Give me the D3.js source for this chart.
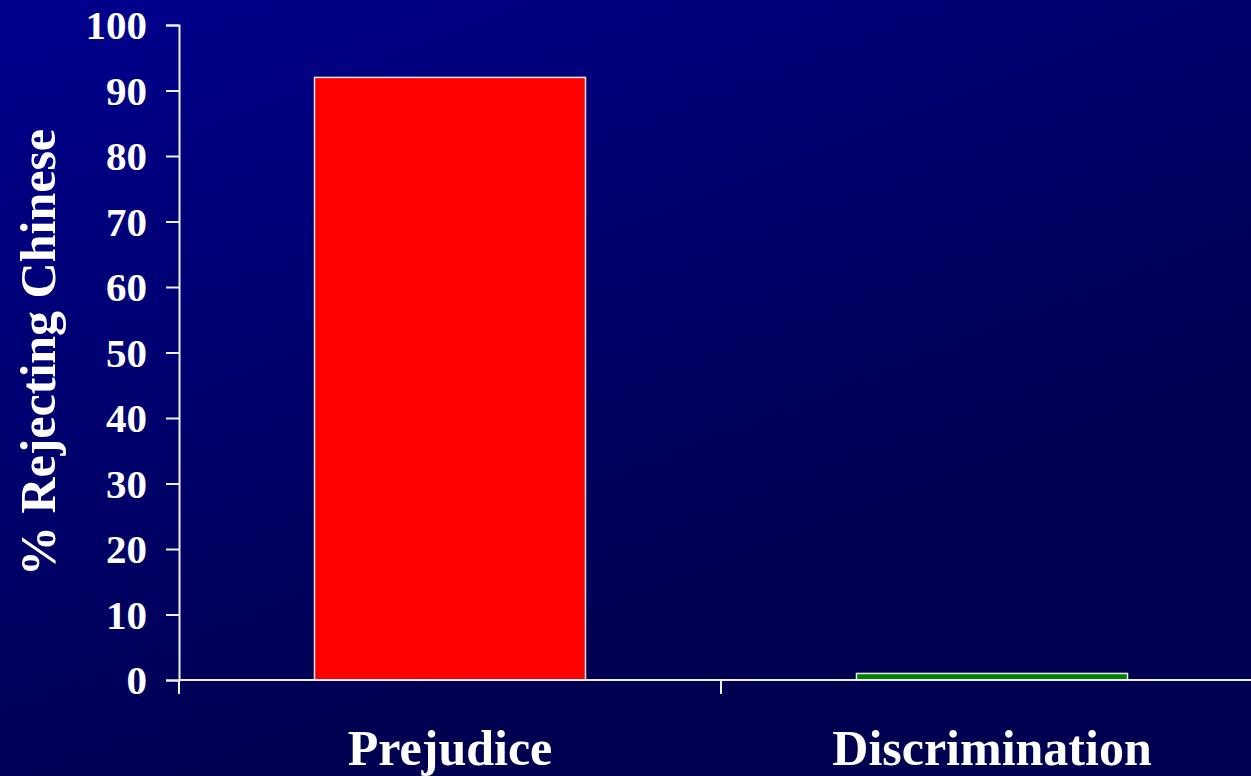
<!DOCTYPE html>
<html>
<head>
<meta charset="utf-8">
<script src="https://cdn.jsdelivr.net/npm/d3@7"></script>
<style>
  html, body { margin: 0; padding: 0; background: #000060; overflow: hidden; }
  text { font-family: "Liberation Serif", "Times New Roman", serif; font-weight: bold; fill: #ffffff; }
</style>
</head>
<body>
<div id="chart"></div>
<script>
// data
let categories = ["Prejudice", "Discrimination"];
let values = [92, 1];
let barColors = ["#ff0000", "#008000"];
let yTicks = [0, 10, 20, 30, 40, 50, 60, 70, 80, 90, 100];
let yTitle = "% Rejecting Chinese";

let W = 1251, H = 776;
let margin = {top: 25, left: 179, bottom: 96};

let svg = d3.select("#chart")
  .append("svg")
  .attr("width", W)
  .attr("height", H);

// background gradient
let grad = svg.append("defs").append("linearGradient")
  .attr("id", "bg")
  .attr("gradientUnits", "userSpaceOnUse")
  .attr("x1", 0).attr("y1", 0)
  .attr("x2", 300).attr("y2", 776);
grad.append("stop").attr("offset", 0).attr("stop-color", "#00008e");
grad.append("stop").attr("offset", 1).attr("stop-color", "#000050");

svg.append("rect")
  .attr("width", W)
  .attr("height", H)
  .attr("fill", "url(#bg)");

// scales
let y = d3.scaleLinear()
  .domain([0, 100])
  .range([H - margin.bottom, margin.top]);

let x = d3.scaleBand()
  .domain(categories)
  .range([margin.left, margin.left + 1084])
  .paddingInner(0.5)
  .paddingOuter(0.25);

// bars
svg.append("g")
  .selectAll("rect")
  .data(categories)
  .enter()
  .append("rect")
    .attr("x", d => x(d))
    .attr("y", (d, i) => y(values[i]))
    .attr("width", x.bandwidth())
    .attr("height", (d, i) => y(0) - y(values[i]))
    .attr("fill", (d, i) => barColors[i])
    .attr("stroke", "#e8e8e8")
    .attr("stroke-width", 1.5);

// y axis
let yAxis = svg.append("g")
  .attr("transform", "translate(" + margin.left + ",0)")
  .call(d3.axisLeft(y)
    .tickValues(yTicks)
    .tickSize(13)
    .tickSizeOuter(13)
    .tickPadding(19));
yAxis.selectAll("path, line").attr("stroke", "#f0f0f0").attr("stroke-width", 2);
yAxis.selectAll("text")
  .style("font-size", "41px")
  .attr("fill", "#ffffff")
  .attr("dy", "0.34em");

// x axis baseline + boundary ticks
let xAxis = svg.append("g");
xAxis.append("line")
  .attr("x1", margin.left)
  .attr("x2", W)
  .attr("y1", y(0))
  .attr("y2", y(0))
  .attr("stroke", "#f0f0f0")
  .attr("stroke-width", 2);
xAxis.selectAll(".xtick")
  .data(categories)
  .enter()
  .append("line")
    .attr("class", "xtick")
    .attr("x1", d => x(d) - x.step() * 0.25)
    .attr("x2", d => x(d) - x.step() * 0.25)
    .attr("y1", y(0))
    .attr("y2", y(0) + 14)
    .attr("stroke", "#f0f0f0")
    .attr("stroke-width", 2);

// category labels
svg.append("g")
  .selectAll("text")
  .data(categories)
  .enter()
  .append("text")
    .attr("x", d => x(d) + x.bandwidth() / 2)
    .attr("y", 765)
    .attr("text-anchor", "middle")
    .style("font-size", "50px")
    .text(d => d);

// y title
svg.append("text")
  .attr("transform", "translate(55," + ((y(0) + y(100)) / 2) + ") rotate(-90)")
  .attr("text-anchor", "middle")
  .style("font-size", "50px")
  .text(yTitle);
</script>
</body>
</html>
